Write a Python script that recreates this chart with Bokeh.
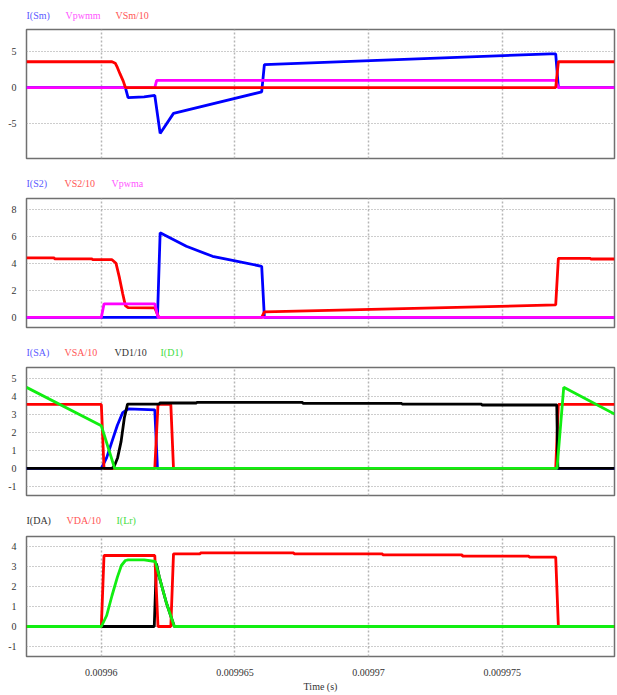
from bokeh.plotting import figure
from bokeh.models import FixedTicker, CustomJSTickFormatter, Range1d
from bokeh.core.properties import value
from bokeh.layouts import column
from bokeh.embed import file_html
from bokeh.resources import INLINE

X_START, X_END = 0.0099572, 0.0099792
x_ticks = [0.00996, 0.009965, 0.00997, 0.009975]

# ---- Panel 1: I(Sm), Vpwmm, VSm/10
t_ism = [0.0099572, 0.0099609, 0.0099610, 0.0099616, 0.0099620, 0.0099622, 0.0099627,
         0.0099660, 0.0099661, 0.0099768, 0.0099770, 0.0099771, 0.0099792]
i_sm = [0, 0, -1.4, -1.3, -1.1, -6.4, -3.6, -0.6, 3.2, 4.7, 4.7, 0, 0]
t_vpwmm = [0.0099572, 0.0099620, 0.00996207, 0.0099770, 0.0099771, 0.0099792]
v_pwmm = [0, 0, 1, 1, 0, 0]
t_vsm = [0.0099572, 0.0099604, 0.00996052, 0.0099606, 0.0099607, 0.00996082, 0.0099609,
         0.0099770, 0.0099771, 0.0099792]
v_sm = [3.6, 3.6, 3.4, 2.8, 1.9, 0.9, 0, 0, 3.6, 3.6]
y1_ticks = [-5, 0, 5]
legend1 = ["I(Sm)", "Vpwmm", "VSm/10"]

# ---- Panel 2: I(S2), VS2/10, Vpwma
t_is2 = [0.0099572, 0.0099621, 0.0099622, 0.00996318, 0.00996416, 0.00996491,
         0.0099660, 0.0099661, 0.0099792]
i_s2 = [0, 0, 6.26, 5.27, 4.52, 4.22, 3.78, 0, 0]
t_vs2 = [0.0099572, 0.00995824, 0.00995825, 0.00995966, 0.00995967, 0.0099604,
         0.00996055, 0.00996067, 0.0099608, 0.0099609, 0.0099610, 0.0099620, 0.00996215,
         0.0099660, 0.0099661, 0.0099770, 0.0099771, 0.0099783, 0.00997831, 0.0099792]
v_s2 = [4.4, 4.4, 4.33, 4.33, 4.27, 4.27, 4.0, 3.0, 1.75, 0.87, 0.72, 0.70, 0,
        0, 0.40, 0.92, 4.37, 4.37, 4.32, 4.32]
t_vpwma = [0.0099572, 0.00996, 0.0099601, 0.0099620, 0.00996212, 0.0099792]
v_pwma = [0, 0, 1, 1, 0, 0]
y2_ticks = [0, 2, 4, 6, 8]
legend2 = ["I(S2)", "VS2/10", "Vpwma"]

# ---- Panel 3: I(SA), VSA/10, VD1/10, I(D1)
t_isa = [0.0099572, 0.00996, 0.0099602, 0.0099604, 0.0099606, 0.0099608, 0.0099610,
         0.0099615, 0.0099620, 0.0099621, 0.0099792]
i_sa = [0, 0, 0.6, 1.5, 2.4, 3.1, 3.3, 3.28, 3.25, 0, 0]
t_vsa = [0.0099572, 0.00996, 0.0099601, 0.0099620, 0.00996212, 0.0099626, 0.0099627,
         0.0099770, 0.0099771, 0.0099792]
v_sa = [3.55, 3.55, 0, 0, 3.55, 3.55, 0, 0, 3.55, 3.55]
t_vd1 = [0.0099572, 0.0099604, 0.00996049, 0.00996061, 0.00996074, 0.00996086, 0.00996098,
         0.00996217, 0.00996218, 0.00996356, 0.00996357, 0.00996753, 0.00996754,
         0.00997124, 0.00997125, 0.00997423, 0.00997424, 0.00997704, 0.00997708, 0.0099792]
v_d1 = [0, 0, 0.15, 0.6, 1.5, 2.8, 3.57, 3.57, 3.63, 3.63, 3.67, 3.67, 3.61,
        3.61, 3.57, 3.57, 3.52, 3.52, 0, 0]
t_id1 = [0.0099572, 0.00996, 0.0099605, 0.00997705, 0.0099773, 0.0099792]
i_d1 = [4.5, 2.37, 0, 0, 4.5, 3.02]
y3_ticks = [-1, 0, 1, 2, 3, 4, 5]
legend3 = ["I(SA)", "VSA/10", "VD1/10", "I(D1)"]

# ---- Panel 4: I(DA), VDA/10, I(Lr)
t_ida = [0.0099572, 0.00996198, 0.00996206, 0.00996217, 0.00996243, 0.00996273, 0.0099792]
i_da = [0, 0, 3.15, 2.47, 1.2, 0, 0]
t_vda = [0.0099572, 0.00996, 0.0099601, 0.0099620, 0.00996212, 0.0099626, 0.0099627,
         0.0099637, 0.00996371, 0.0099672, 0.00996721, 0.00997052, 0.00997053,
         0.0099735, 0.00997351, 0.0099760, 0.00997601, 0.0099770, 0.0099771, 0.0099792]
v_da = [0, 0, 3.55, 3.55, 0, 0, 3.63, 3.63, 3.68, 3.68, 3.63, 3.63, 3.58,
        3.58, 3.52, 3.52, 3.47, 3.47, 0, 0]
t_ilr = [0.0099572, 0.00996, 0.0099602, 0.0099604, 0.0099606, 0.00996075, 0.0099609,
         0.0099610, 0.0099616, 0.00996202, 0.00996217, 0.00996243, 0.00996273, 0.0099792]
i_lr = [0, 0, 0.55, 1.55, 2.47, 3.05, 3.3, 3.33, 3.33, 3.25, 2.47, 1.2, 0, 0]
y4_ticks = [-1, 0, 1, 2, 3, 4]
legend4 = ["I(DA)", "VDA/10", "I(Lr)"]

BLUE, MAG, RED, BLK, GRN = "#0000ff", "#ff00ff", "#ff0000", "#000000", "#11ee11"
T_BLUE, T_MAG, T_RED, T_BLK, T_GRN = "#5a5aff", "#ff55ff", "#ff5555", "#333333", "#44dd44"
FONT = "Liberation Serif"
W = 617
FRAME_W = 588
LW = 2.8

YFMT = CustomJSTickFormatter(code="return tick.toString();")


def legend_fig(height, ypos, xs, texts, colors):
    p = figure(width=W, height=height, output_backend="svg", toolbar_location=None,
               x_range=Range1d(0, FRAME_W), y_range=Range1d(0, height),
               x_axis_type=None, y_axis_type=None,
               min_border_left=26, min_border_right=3, min_border_top=0, min_border_bottom=0)
    p.outline_line_color = None
    p.xgrid.visible = False
    p.ygrid.visible = False
    p.text(x=xs, y=[ypos] * len(xs), text=texts, text_color=colors,
           text_font=value(FONT), text_font_size=value("10px"),
           text_baseline="middle", text_align="left")
    return p


def make_fig(height, top, bottom, y0, y1, yticks, show_x):
    p = figure(width=W, height=height, output_backend="svg", toolbar_location=None,
               x_range=Range1d(X_START, X_END), y_range=Range1d(y0, y1),
               min_border_left=26, min_border_right=3,
               min_border_top=top, min_border_bottom=bottom)
    p.outline_line_color = "#707070"
    p.outline_line_width = 1.5
    p.yaxis.ticker = FixedTicker(ticks=yticks)
    p.yaxis.formatter = YFMT
    p.yaxis.axis_line_color = None
    p.yaxis.major_tick_line_color = None
    p.yaxis.major_tick_out = 0
    p.yaxis.major_tick_in = 0
    p.yaxis.minor_tick_line_color = None
    p.yaxis.minor_tick_out = 0
    p.yaxis.major_label_standoff = 10
    p.yaxis.major_label_text_font = FONT
    p.yaxis.major_label_text_font_size = "10px"
    p.yaxis.major_label_text_color = "#333333"
    p.xaxis.ticker = FixedTicker(ticks=x_ticks)
    p.xgrid.ticker = FixedTicker(ticks=x_ticks)
    p.ygrid.ticker = FixedTicker(ticks=yticks)
    p.ygrid.grid_line_color = "#9a9a9a"
    p.ygrid.grid_line_dash = "1 2"
    p.ygrid.grid_line_width = 1
    p.xgrid.grid_line_color = "#b5b5b5"
    p.xgrid.grid_line_dash = "2 2"
    p.xgrid.grid_line_width = 1.5
    if show_x:
        p.xaxis.axis_line_color = None
        p.xaxis.major_tick_line_color = None
        p.xaxis.major_tick_out = 0
        p.xaxis.major_tick_in = 0
        p.xaxis.minor_tick_line_color = None
        p.xaxis.minor_tick_out = 0
        p.xaxis.major_label_standoff = 12
        p.xaxis.major_label_text_font = FONT
        p.xaxis.major_label_text_font_size = "10px"
        p.xaxis.major_label_text_color = "#333333"
        p.xaxis.formatter = CustomJSTickFormatter(code="return Number(tick.toPrecision(6)).toString();")
        p.xaxis.axis_label = "Time (s)"
        p.xaxis.axis_label_standoff = 2
        p.xaxis.axis_label_text_font = FONT
        p.xaxis.axis_label_text_font_size = "10px"
        p.xaxis.axis_label_text_font_style = "normal"
        p.xaxis.axis_label_text_color = "#333333"
    else:
        p.xaxis.visible = False
    return p


L1 = legend_fig(22, 7, [0, 39, 89], legend1, [T_BLUE, T_MAG, T_RED])
p1 = make_fig(148, 7, 12, -9.9, 8.1, y1_ticks, False)
p1.line(t_ism, i_sm, line_color=BLUE, line_width=LW)
p1.line(t_vpwmm, v_pwmm, line_color=MAG, line_width=LW)
p1.line(t_vsm, v_sm, line_color=RED, line_width=LW)

L2 = legend_fig(20, 7, [0, 38, 85], legend2, [T_BLUE, T_RED, T_MAG])
p2 = make_fig(150, 8, 13, -0.75, 8.8, y2_ticks, False)
p2.line(t_is2, i_s2, line_color=BLUE, line_width=LW)
p2.line(t_vs2, v_s2, line_color=RED, line_width=LW)
p2.line(t_vpwma, v_pwma, line_color=MAG, line_width=LW)

L3 = legend_fig(20, 8, [0, 38, 88, 134], legend3, [T_BLUE, T_RED, T_BLK, T_GRN])
p3 = make_fig(145, 7, 10, -1.5, 5.6, y3_ticks, False)
p3.line(t_isa, i_sa, line_color=BLUE, line_width=LW)
p3.line(t_vsa, v_sa, line_color=RED, line_width=LW)
p3.line(t_vd1, v_d1, line_color=BLK, line_width=LW)
p3.line(t_id1, i_d1, line_color=GRN, line_width=LW)

L4 = legend_fig(23, 8, [0, 40, 90], legend4, [T_BLK, T_RED, T_GRN])
p4 = make_fig(167, 8, 39, -1.5, 4.5, y4_ticks, True)
p4.line(t_ida, i_da, line_color=BLK, line_width=LW)
p4.line(t_vda, v_da, line_color=RED, line_width=LW)
p4.line(t_ilr, i_lr, line_color=GRN, line_width=LW)

layout = column(L1, p1, L2, p2, L3, p3, L4, p4, spacing=0)
open("out.html", "w").write(file_html(layout, INLINE))
